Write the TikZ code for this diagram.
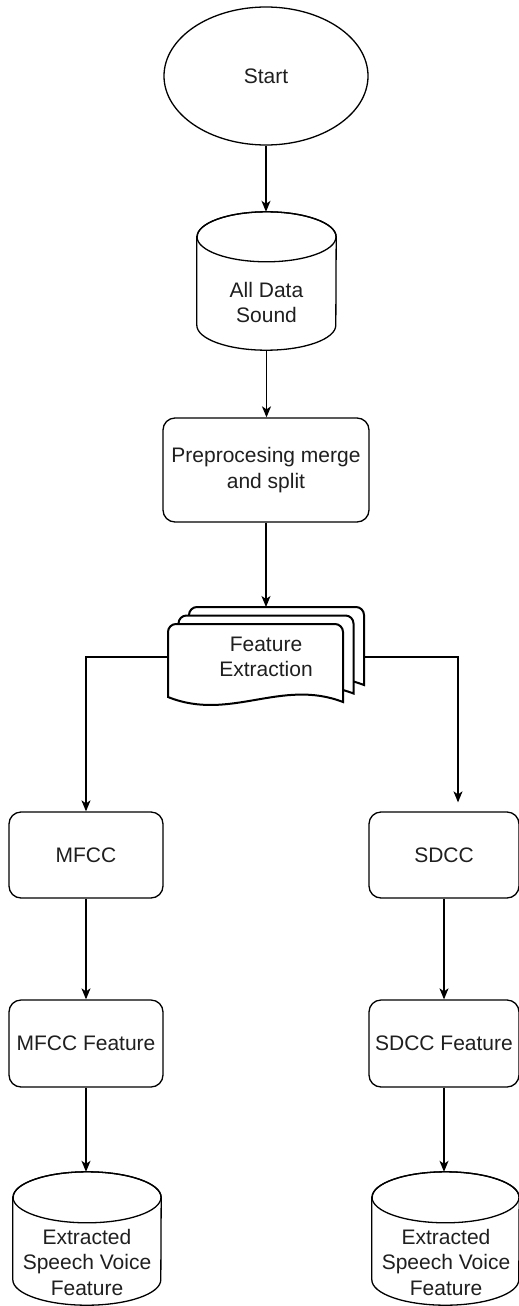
\documentclass[tikz,border=0pt]{standalone}
\usepackage{fontspec}
\setmainfont{Liberation Sans}
\usetikzlibrary{arrows.meta,shapes.geometric,calc}

% database cylinder drawn around a named node: #1 node, #2 x radius, #3 cap height
\newcommand\dbdraw[3]{%
  \draw[shapeline,fill=white]
    ([yshift=-#3]#1.north west) -- ([yshift=#3]#1.south west)
    arc[start angle=180,end angle=360,x radius=#2,y radius=#3]
    -- ([yshift=-#3]#1.north east)
    arc[start angle=0,end angle=180,x radius=#2,y radius=#3] -- cycle;
  \draw[shapeline] ([yshift=-#3]#1.north) ellipse[x radius=#2,y radius=#3];}

% one sheet of the stacked document symbol, top-left at (#1,#2)
\newcommand\docsheet[2]{%
  \begin{scope}[shift={(#1,#2)}]
    \draw[sheetline,fill=white] (0,73) [rounded corners=8pt] -- (0,0) -- (175,0)
      [sharp corners] -- (175,78) .. controls (113,54) and (62,98) .. (0,73) -- cycle;
  \end{scope}}

\begin{document}
\begin{tikzpicture}[x=1pt,y=-1pt,
  every node/.style={font=\fontsize{21}{25.5}\selectfont,text=black!88,align=center,inner sep=0pt},
  shapeline/.style={draw=black,line width=1.3pt},
  sheetline/.style={draw=black,line width=2pt},
  procbox/.style={shapeline,rounded corners=12pt,fill=white},
  holder/.style={rectangle,minimum width=#1},
  conn/.style={line width=1.3pt,draw=black,-{Stealth[length=11pt,width=9pt,inset=3pt]}}]

\fill[white] (0,0) rectangle (519,1306);
\useasboundingbox (0,0) rectangle (519,1306);

% start terminator
\node[shapeline,ellipse,minimum width=204pt,minimum height=138pt] (start) at (266,76) {Start};

% input database
\node[rectangle,minimum width=139pt,minimum height=138pt] (db1) at (266.5,281) {};
\dbdraw{db1}{69.5pt}{25pt}
\node (db1t) at (266.5,302.5) {All Data\\Sound};

% preprocessing
\node[procbox,minimum width=206pt,minimum height=104pt] (pre) at (266,470) {Preprocesing merge\\and split};

% stacked documents for feature extraction
\docsheet{189}{607}
\docsheet{178.5}{615.5}
\docsheet{168}{624}
\node[rectangle,minimum width=196pt,minimum height=100pt] (fe) at (266,657) {Feature\\Extraction};
\coordinate (fetop) at (266,607);

% feature branches
\node[procbox,minimum width=154pt,minimum height=86pt] (mfcc) at (86,855) {MFCC};
\node[procbox,minimum width=150pt,minimum height=86pt] (sdcc) at (444,855) {SDCC};
\node[procbox,minimum width=154pt,minimum height=87pt] (mfccf) at (86,1043.5) {MFCC Feature};
\node[procbox,minimum width=150pt,minimum height=87pt] (sdccf) at (444,1043.5) {SDCC Feature};

% output databases
\node[rectangle,minimum width=148pt,minimum height=133pt] (out1) at (87,1238.5) {};
\dbdraw{out1}{74pt}{25.5pt}
\node (out1t) at (87,1262) {Extracted\\Speech Voice\\Feature};
\node[rectangle,minimum width=147pt,minimum height=133pt] (out2) at (445.5,1238.5) {};
\dbdraw{out2}{73.5pt}{25.5pt}
\node (out2t) at (446,1262) {Extracted\\Speech Voice\\Feature};

% connectors
\draw[conn] (start.south) -- (start.south |- db1.north);
\draw[conn] (db1.south) -- (db1.south |- pre.north);
\draw[conn] (pre.south) -- (fetop);
\draw[conn] (fe.west) -| (mfcc.north);
\draw[conn,shorten >=9pt] (fe.east) -| ([xshift=14pt]sdcc.north);
\draw[conn] (mfcc.south) -- (mfcc.south |- mfccf.north);
\draw[conn] (sdcc.south) -- (sdcc.south |- sdccf.north);
\draw[conn] (mfccf.south) -- (mfccf.south |- out1.north);
\draw[conn] (sdccf.south) -- (sdccf.south |- out2.north);
\end{tikzpicture}
\end{document}
